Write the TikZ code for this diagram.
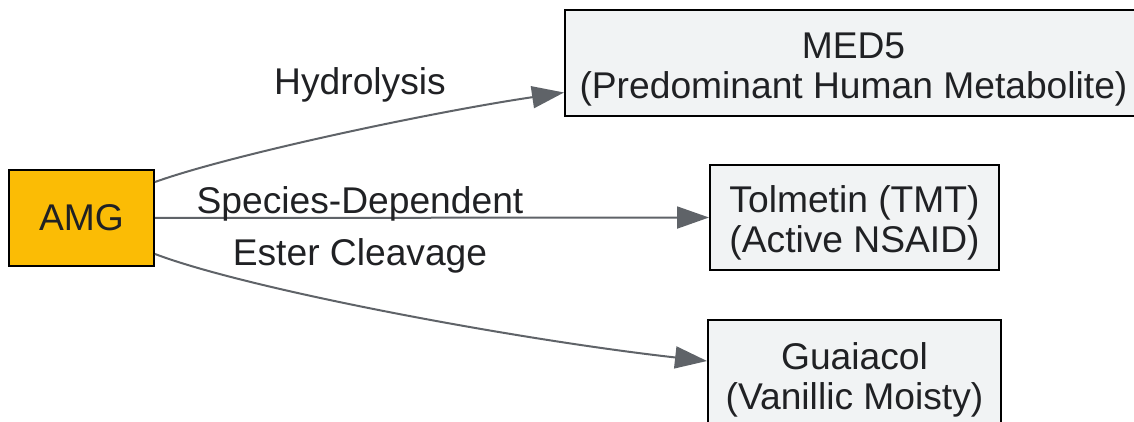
\documentclass[tikz,border=0pt]{standalone}
\usepackage{fontspec}
\setmainfont{Liberation Sans}
\usetikzlibrary{arrows.meta}
\definecolor{amgfill}{HTML}{FBBC05}
\definecolor{boxfill}{HTML}{F1F3F4}
\definecolor{edgecol}{HTML}{5F6368}
\definecolor{txtcol}{HTML}{202124}
\newcommand\boxlines[2]{\raisebox{-3.5pt}[\height][\depth]{\begin{tabular}{@{}c@{}}#1\\#2\end{tabular}}}
\tikzset{
  box/.style={draw=black, line width=1pt, fill=boxfill, text=txtcol, align=center,
    inner sep=0pt, font=\fontsize{18.6}{20}\selectfont},
  amgbox/.style={box, fill=amgfill},
  edge/.style={draw=edgecol, line width=1pt, -{Triangle[length=16pt,width=11pt]}},
  lbl/.style={text=txtcol, inner sep=0pt, font=\fontsize{18.6}{20}\selectfont},
}
\begin{document}
\begin{tikzpicture}[x=0.5pt,y=-0.5pt]
\useasboundingbox (0,0) rectangle (1134,422);
\node[amgbox, minimum width=72.5pt, minimum height=48pt] (amg) at (81.5,218) {AMG};
\node[box, minimum width=288.5pt, minimum height=53pt] (med5) at (853.5,63.5) {\boxlines{MED5}{(Predominant Human Metabolite)}};
\node[box, minimum width=144.5pt, minimum height=52.5pt] (tmt) at (854.5,217.5) {\boxlines{Tolmetin (TMT)}{(Active NSAID)}};
\node[box, minimum width=146.5pt, minimum height=54pt] (gua) at (854.5,374) {\boxlines{Guaiacol}{(Vanillic Moisty)}};

\draw[edge] ([yshift=18pt]amg.east) .. controls +(75,-27) and +(-135,20) .. ([yshift=-14.5pt]med5.west);
\draw[edge] (amg.east) -- (tmt.west);
\draw[edge] ([yshift=-18pt]amg.east) .. controls +(95,36) and +(-188,-21) .. ([yshift=6.5pt]gua.west);

\node[lbl] (l1) at (360,85) {Hydrolysis};
\node[lbl] (l2) at (360,204) {Species-Dependent};
\node[lbl] (l3) at (360,256) {Ester Cleavage};
\end{tikzpicture}
\end{document}
